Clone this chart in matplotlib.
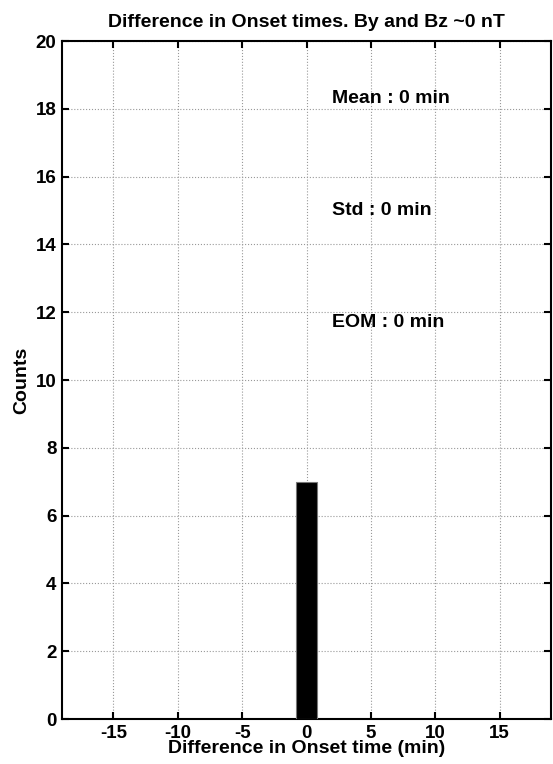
import numpy as np
import matplotlib
matplotlib.use("Agg")
import matplotlib.pyplot as plt

# Histogram of onset-time differences (bin centres in minutes)
bin_centres = [0]
counts = [7]
bin_width = 2
bar_frac = 0.8

stats_labels = ["Mean : 0 min", "Std : 0 min", "EOM : 0 min"]
stats_y = [18.3, 15.0, 11.7]

plt.rcParams['font.family'] = ['Liberation Sans', 'DejaVu Sans']
plt.rcParams['font.weight'] = 'bold'
plt.rcParams['axes.unicode_minus'] = False

fig = plt.figure(figsize=(5.53, 7.64), dpi=100)
ax = fig.add_axes([0.1121, 0.0589, 0.8843, 0.8874])

ax.bar(bin_centres, counts, width=bin_width * bar_frac, color='black',
       edgecolor='#777777', linewidth=0.8, zorder=3)

ax.set_xlim(-19, 19)
ax.set_ylim(0, 20)
ax.set_xticks([-15, -10, -5, 0, 5, 10, 15])
ax.set_yticks(np.arange(0, 21, 2))
ax.grid(True, linestyle=':', color='#999999', linewidth=0.8, zorder=0)

ax.tick_params(direction='in', top=True, right=True, length=5, width=1.5,
               labelsize=13.5, pad=4)
for lab in ax.get_xticklabels() + ax.get_yticklabels():
    lab.set_fontweight('bold')
for s in ax.spines.values():
    s.set_linewidth(1.5)

for txt, y in zip(stats_labels, stats_y):
    ax.text(2, y, txt, fontsize=14, fontweight='bold', va='center', ha='left')

ax.set_title("Difference in Onset times. By and Bz ~0 nT", fontsize=14,
             fontweight='bold', pad=10)
ax.set_xlabel("Difference in Onset time (min)", fontsize=14, fontweight='bold',
              labelpad=-1)
ax.set_ylabel("Counts", fontsize=14, fontweight='bold', labelpad=4)

fig.savefig("out.png", dpi=100)
